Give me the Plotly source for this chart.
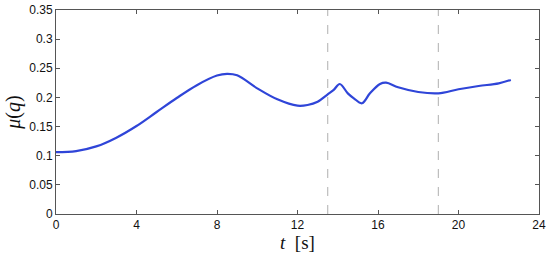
import plotly.graph_objects as go

# time samples [s] and mu(q)
t = [0, 1, 2, 3, 4, 5, 6, 7, 8, 8.5, 9, 10, 11, 12, 12.5, 13, 13.5, 13.8, 14.1,
     14.5, 14.8, 15.2, 15.6, 16.1, 16.4, 17, 18, 19, 20, 21, 22, 22.6]
mu = [0.106, 0.108, 0.116, 0.131, 0.151, 0.175, 0.199, 0.221, 0.2375, 0.2405,
      0.238, 0.2156, 0.1967, 0.1858, 0.187, 0.1927, 0.2053, 0.213, 0.223,
      0.207, 0.1985, 0.190, 0.207, 0.223, 0.2253, 0.2174, 0.2093, 0.207,
      0.214, 0.2196, 0.2242, 0.230]

event_times = [13.5, 19]

x_ticks = [0, 4, 8, 12, 16, 20, 24]
y_ticks = [0, 0.05, 0.1, 0.15, 0.2, 0.25, 0.3, 0.35]
y_ticklabels = ['0', '0.05', '0.1', '0.15', '0.2', '0.25', '0.3', '0.35']

fig = go.Figure()
fig.add_trace(go.Scatter(
    x=t, y=mu, mode='lines',
    line=dict(color='#2f45d8', width=2.2, shape='spline', smoothing=1.0),
    showlegend=False, hoverinfo='skip'
))

for te in event_times:
    fig.add_shape(type='line', x0=te, x1=te, y0=0, y1=1, xref='x', yref='paper',
                  line=dict(color='#bdbdbd', width=1.2, dash='dash'), layer='below')

axis_common = dict(
    showgrid=False, zeroline=False, showline=True, linecolor='#555555', linewidth=1,
    mirror='ticks', ticks='inside', ticklen=4, tickcolor='#555555', automargin=False,
    tickfont=dict(family='Liberation Sans, Arial, sans-serif', size=12, color='#111111'),
)

fig.update_layout(
    width=550, height=257,
    margin=dict(l=56, r=11, t=10, b=43),
    plot_bgcolor='white', paper_bgcolor='white',
    xaxis=dict(range=[0, 24], tickvals=x_ticks, **axis_common,
               title=dict(text='<i>t</i>  [s]', standoff=1,
                          font=dict(family='Liberation Serif, DejaVu Serif, serif', size=19, color='#111111'))),
    yaxis=dict(range=[0, 0.35], tickvals=y_ticks, ticktext=y_ticklabels, **axis_common,
               title=dict(text='<i>μ</i>(<i>q</i>)', standoff=3,
                          font=dict(family='Liberation Serif, DejaVu Serif, serif', size=20, color='#111111'))),
)

fig.write_html("out.html", config={'displayModeBar': False},
               post_script="document.body.style.margin='0';")
